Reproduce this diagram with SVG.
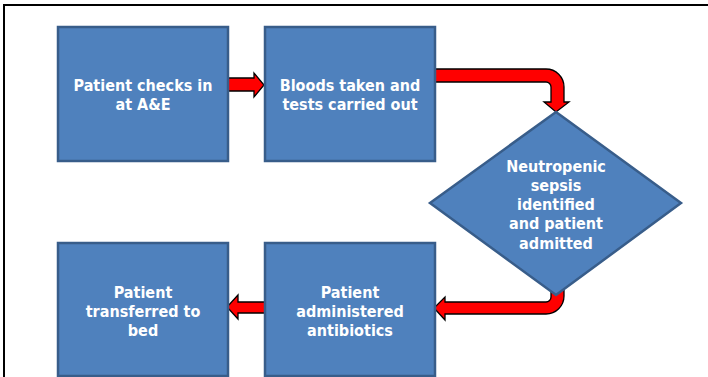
<svg xmlns="http://www.w3.org/2000/svg" width="708" height="377" viewBox="0 0 708 377">
<style>
.box{fill:#4F81BD;stroke:#385D8A;stroke-width:2.5}
.arr{fill:#FF0000;stroke:#000000;stroke-width:1.3;stroke-linejoin:miter}
.t{font-family:"DejaVu Sans Condensed","DejaVu Sans",sans-serif;font-stretch:condensed;font-weight:bold;font-size:16px;fill:#FFFFFF;text-anchor:middle}
</style>
<rect x="0" y="0" width="708" height="377" fill="#FFFFFF"/>
<rect x="4" y="5" width="730" height="400" fill="none" stroke="#000000" stroke-width="2"/>
<g id="connectors">
<path class="arr" d="M226 78 H254 V73 L264 85 L254 97 V91 H226 Z"/>
<path class="arr" d="M433 69 H546 A18 18 0 0 1 564 87 V102 H569 L556 112 L544 102 H551 V87 A5 5 0 0 0 546 82 H433 Z"/>
<path class="arr" d="M551 290 V297 A5 5 0 0 1 546 302 H445 V297 L434 308 L445 320 V314 H546 A18 18 0 0 0 564 296 V290 Z"/>
<path class="arr" d="M267 302 H238 V295 L227 307 L238 319 V313 H267 Z"/>
</g>
<g id="node-checkin">
<rect class="box" x="58" y="27" width="170" height="134"/>
<text class="t" x="143" y="91">Patient checks in</text>
<text class="t" x="143" y="110">at A&amp;E</text>
</g>
<g id="node-bloods">
<rect class="box" x="265" y="27" width="170" height="134"/>
<text class="t" x="350" y="91">Bloods taken and</text>
<text class="t" x="350" y="110">tests carried out</text>
</g>
<g id="node-sepsis">
<polygon class="box" points="556,112 681,203 556,295 430,203"/>
<text class="t" x="556" y="172">Neutropenic</text>
<text class="t" x="556" y="191">sepsis</text>
<text class="t" x="556" y="210">identified</text>
<text class="t" x="556" y="229">and patient</text>
<text class="t" x="556" y="249">admitted</text>
</g>
<g id="node-antibiotics">
<rect class="box" x="265" y="243" width="170" height="133"/>
<text class="t" x="350" y="298">Patient</text>
<text class="t" x="350" y="317">administered</text>
<text class="t" x="350" y="336">antibiotics</text>
</g>
<g id="node-bed">
<rect class="box" x="58" y="243" width="170" height="133"/>
<text class="t" x="143" y="298">Patient</text>
<text class="t" x="143" y="317">transferred to</text>
<text class="t" x="143" y="336">bed</text>
</g>
</svg>
